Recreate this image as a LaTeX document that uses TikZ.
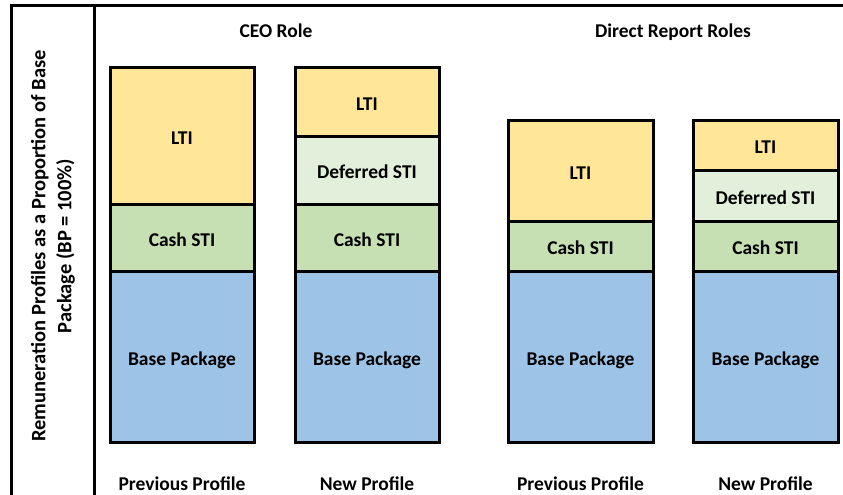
\documentclass[tikz,border=0pt]{standalone}
\usepackage{fontspec}
\setmainfont{Carlito}
\definecolor{ltiyellow}{HTML}{FFE699}
\definecolor{cashgreen}{HTML}{C6E0B4}
\definecolor{defgreen}{HTML}{E2EFDA}
\definecolor{baseblue}{HTML}{9DC3E6}
\begin{document}
\begin{tikzpicture}[x=1pt,y=-1pt,
  seg/.style={draw=black, line width=3pt, inner sep=0pt, anchor=center,
    text height=17.6pt, text depth=0pt,
    font=\fontsize{19.5}{23}\selectfont\bfseries},
  lti/.style={seg, fill=ltiyellow},
  cash/.style={seg, fill=cashgreen},
  deferred/.style={seg, fill=defgreen},
  base/.style={seg, fill=baseblue},
  heading/.style={inner sep=0pt, text height=12.6pt, text depth=0pt,
    font=\fontsize{19.5}{23}\selectfont\bfseries},
  frame/.style={line width=3pt}]
\useasboundingbox (0,0) rectangle (843,495);

% frame lines
\coordinate (ftl) at (11,6);
\coordinate (ftr) at (843,6);
\coordinate (fbl) at (11,495);
\coordinate (itop) at (94,6);
\coordinate (ibot) at (94,495);
\draw[frame] (fbl) -- (ftl) -- (ftr);
\draw[frame] (itop) -- (ibot);

% axis title
\node[inner sep=0pt, rotate=90, align=center,
  font=\fontsize{20.5}{26}\selectfont\bfseries] (ytitle) at (53,246)
  {Remuneration Profiles as a Proportion of Base\\Package (BP = 100\%)};

% group headings
\node[heading] (ceo) at (276,31.7) {CEO Role};
\node[heading] (drr) at (673,31.7) {Direct Report Roles};

% CEO previous profile
\node[lti, minimum width=144, minimum height=136] (p1lti) at (182,136) {LTI};
\node[cash, minimum width=144, minimum height=67] (p1cash) at (182,237.5) {Cash STI};
\node[base, minimum width=144, minimum height=171] (p1base) at (182,356.5) {Base Package};

% CEO new profile
\node[lti, minimum width=144, minimum height=68] (p2lti) at (367,102) {LTI};
\node[deferred, minimum width=144, minimum height=68] (p2def) at (367,170) {Deferred STI};
\node[cash, minimum width=144, minimum height=67] (p2cash) at (367,237.5) {Cash STI};
\node[base, minimum width=144, minimum height=171] (p2base) at (367,356.5) {Base Package};

% direct reports previous profile
\node[lti, minimum width=145, minimum height=101] (p3lti) at (580.5,170.5) {LTI};
\node[cash, minimum width=145, minimum height=50] (p3cash) at (580.5,246) {Cash STI};
\node[base, minimum width=145, minimum height=171] (p3base) at (580.5,356.5) {Base Package};

% direct reports new profile
\node[lti, minimum width=145, minimum height=50] (p4lti) at (765.5,145) {LTI};
\node[deferred, minimum width=145, minimum height=51] (p4def) at (765.5,195.5) {Deferred STI};
\node[cash, minimum width=145, minimum height=50] (p4cash) at (765.5,246) {Cash STI};
\node[base, minimum width=145, minimum height=171] (p4base) at (765.5,356.5) {Base Package};

% column captions
\node[heading] (c1) at (182,484.5) {Previous Profile};
\node[heading] (c2) at (367,484.5) {New Profile};
\node[heading] (c3) at (580.5,484.5) {Previous Profile};
\node[heading] (c4) at (765.5,484.5) {New Profile};
\end{tikzpicture}
\end{document}
